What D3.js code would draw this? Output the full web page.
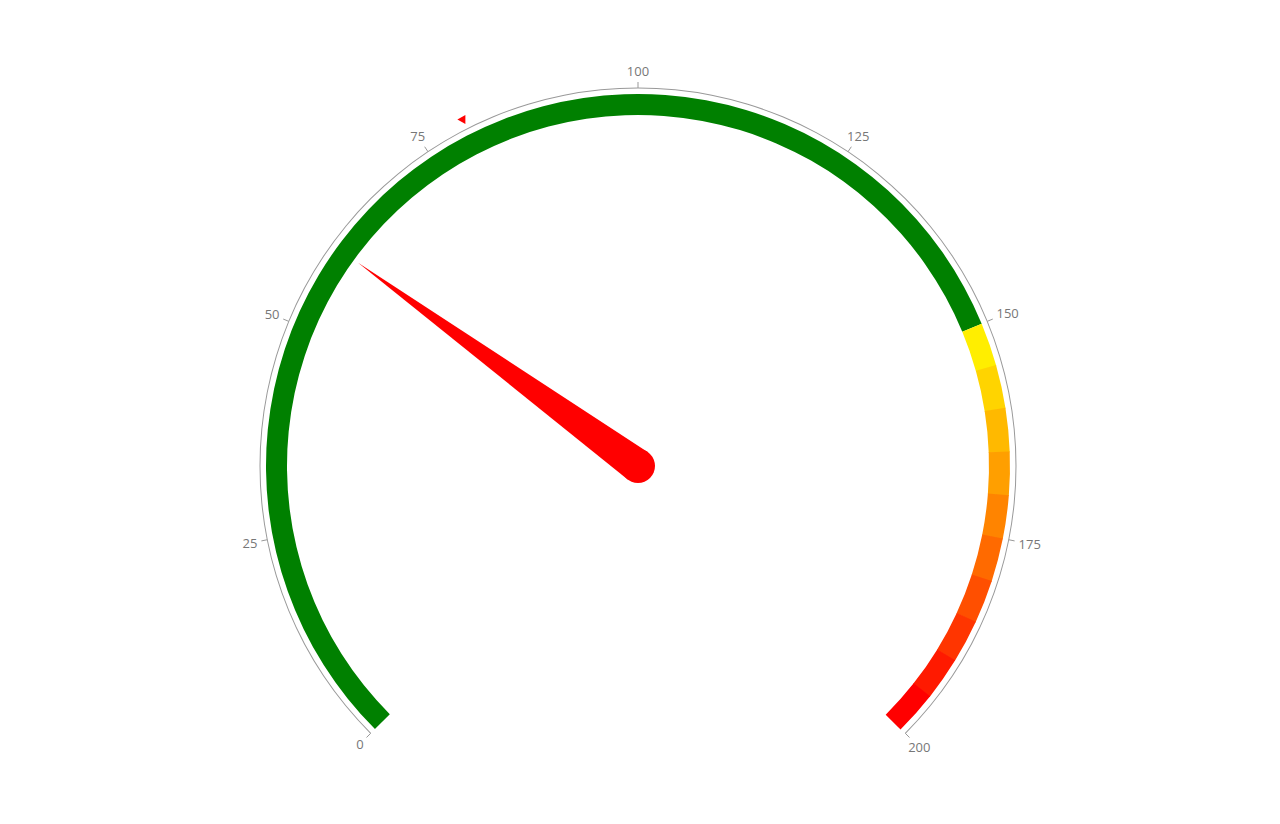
<!DOCTYPE html>
<html>
<head>
<meta charset="utf-8">
<script src="https://cdn.jsdelivr.net/npm/d3@7"></script>
<style>
  body { margin: 0; background: #fff; }
  svg { display: block; }
</style>
</head>
<body>
<div class="wrapper"></div>
<script>
// gauge data
const tickValues = [0, 25, 50, 75, 100, 125, 150, 175, 200];
const greenBand = [0, 150];
const warnBandStarts = [150, 155, 160, 165, 170, 175, 180, 185, 190, 195];
const warnBandEnds = [155, 160, 165, 170, 175, 180, 185, 190, 195, 200];
const needleValue = 60;
const markerValue = 80;

const width = 1280;
const height = 824;
const cx = 638;
const cy = 466;

const svg = d3.select(".wrapper")
  .append("svg")
  .attr("width", width)
  .attr("height", height);

const g = svg.append("g").attr("transform", `translate(${cx},${cy})`);

const angle = d3.scaleLinear()
  .domain([0, 200])
  .range([-135 * Math.PI / 180, 135 * Math.PI / 180]);

const warnColor = d3.scaleLinear()
  .domain([0, warnBandStarts.length - 1])
  .range(["#ffee00", "#ff0000"]);

const px = (v, r) => r * Math.sin(angle(v));
const py = (v, r) => -r * Math.cos(angle(v));

const bandArc = d3.arc().innerRadius(351).outerRadius(372);

// green band
g.append("path")
  .attr("d", bandArc({ startAngle: angle(greenBand[0]), endAngle: angle(greenBand[1]) }))
  .attr("fill", "#008000");

// yellow -> red segments
g.selectAll("path.warn")
  .data(warnBandStarts)
  .enter()
  .append("path")
  .attr("class", "warn")
  .attr("d", (d, i) => bandArc({ startAngle: angle(d), endAngle: angle(warnBandEnds[i]) + 0.002 }))
  .attr("fill", (d, i) => warnColor(i));

// axis line
g.append("path")
  .attr("d", d3.arc().innerRadius(377.5).outerRadius(378.5)({ startAngle: angle(0), endAngle: angle(200) }))
  .attr("fill", "#999");

// ticks
g.selectAll("line.tick")
  .data(tickValues)
  .enter()
  .append("line")
  .attr("class", "tick")
  .attr("x1", d => px(d, 378))
  .attr("y1", d => py(d, 378))
  .attr("x2", d => px(d, 384))
  .attr("y2", d => py(d, 384))
  .attr("stroke", "#999")
  .attr("stroke-width", 1);

// labels: box pushed outward from the tick end so it just clears it
const labelR = 387;
const halfH = 7;
g.selectAll("text.label")
  .data(tickValues)
  .enter()
  .append("text")
  .attr("class", "label")
  .attr("text-anchor", "middle")
  .attr("dominant-baseline", "central")
  .style("font-family", "'Open Sans', sans-serif")
  .style("font-size", "13px")
  .style("fill", "#777")
  .text(d => d)
  .each(function(d) {
    const halfW = this.getBBox().width / 2;
    const ux = Math.sin(angle(d));
    const uy = -Math.cos(angle(d));
    const push = Math.min(
      Math.abs(ux) > 1e-6 ? halfW / Math.abs(ux) : Infinity,
      Math.abs(uy) > 1e-6 ? halfH / Math.abs(uy) : Infinity
    ) + 1;
    d3.select(this)
      .attr("x", px(d, labelR) + ux * push)
      .attr("y", py(d, labelR) + uy * push);
  });

// marker triangle (pointing left)
const mx = px(markerValue, 389);
const my = py(markerValue, 389);
g.append("path")
  .attr("d", `M${mx - 4},${my}L${mx + 4},${my - 4.5}L${mx + 4},${my + 4.5}Z`)
  .attr("fill", "#ff0000");

// needle
const na = angle(needleValue);
const nLen = 346;
const baseR = 17;
const needle = [
  [px(needleValue, nLen), py(needleValue, nLen)],
  [baseR * Math.cos(na), baseR * Math.sin(na)],
  [-baseR * Math.cos(na), -baseR * Math.sin(na)]
];
g.append("path")
  .attr("d", "M" + needle.map(p => p.join(",")).join("L") + "Z")
  .attr("fill", "#ff0000");

g.append("circle")
  .attr("r", baseR)
  .attr("fill", "#ff0000");
</script>
</body>
</html>
